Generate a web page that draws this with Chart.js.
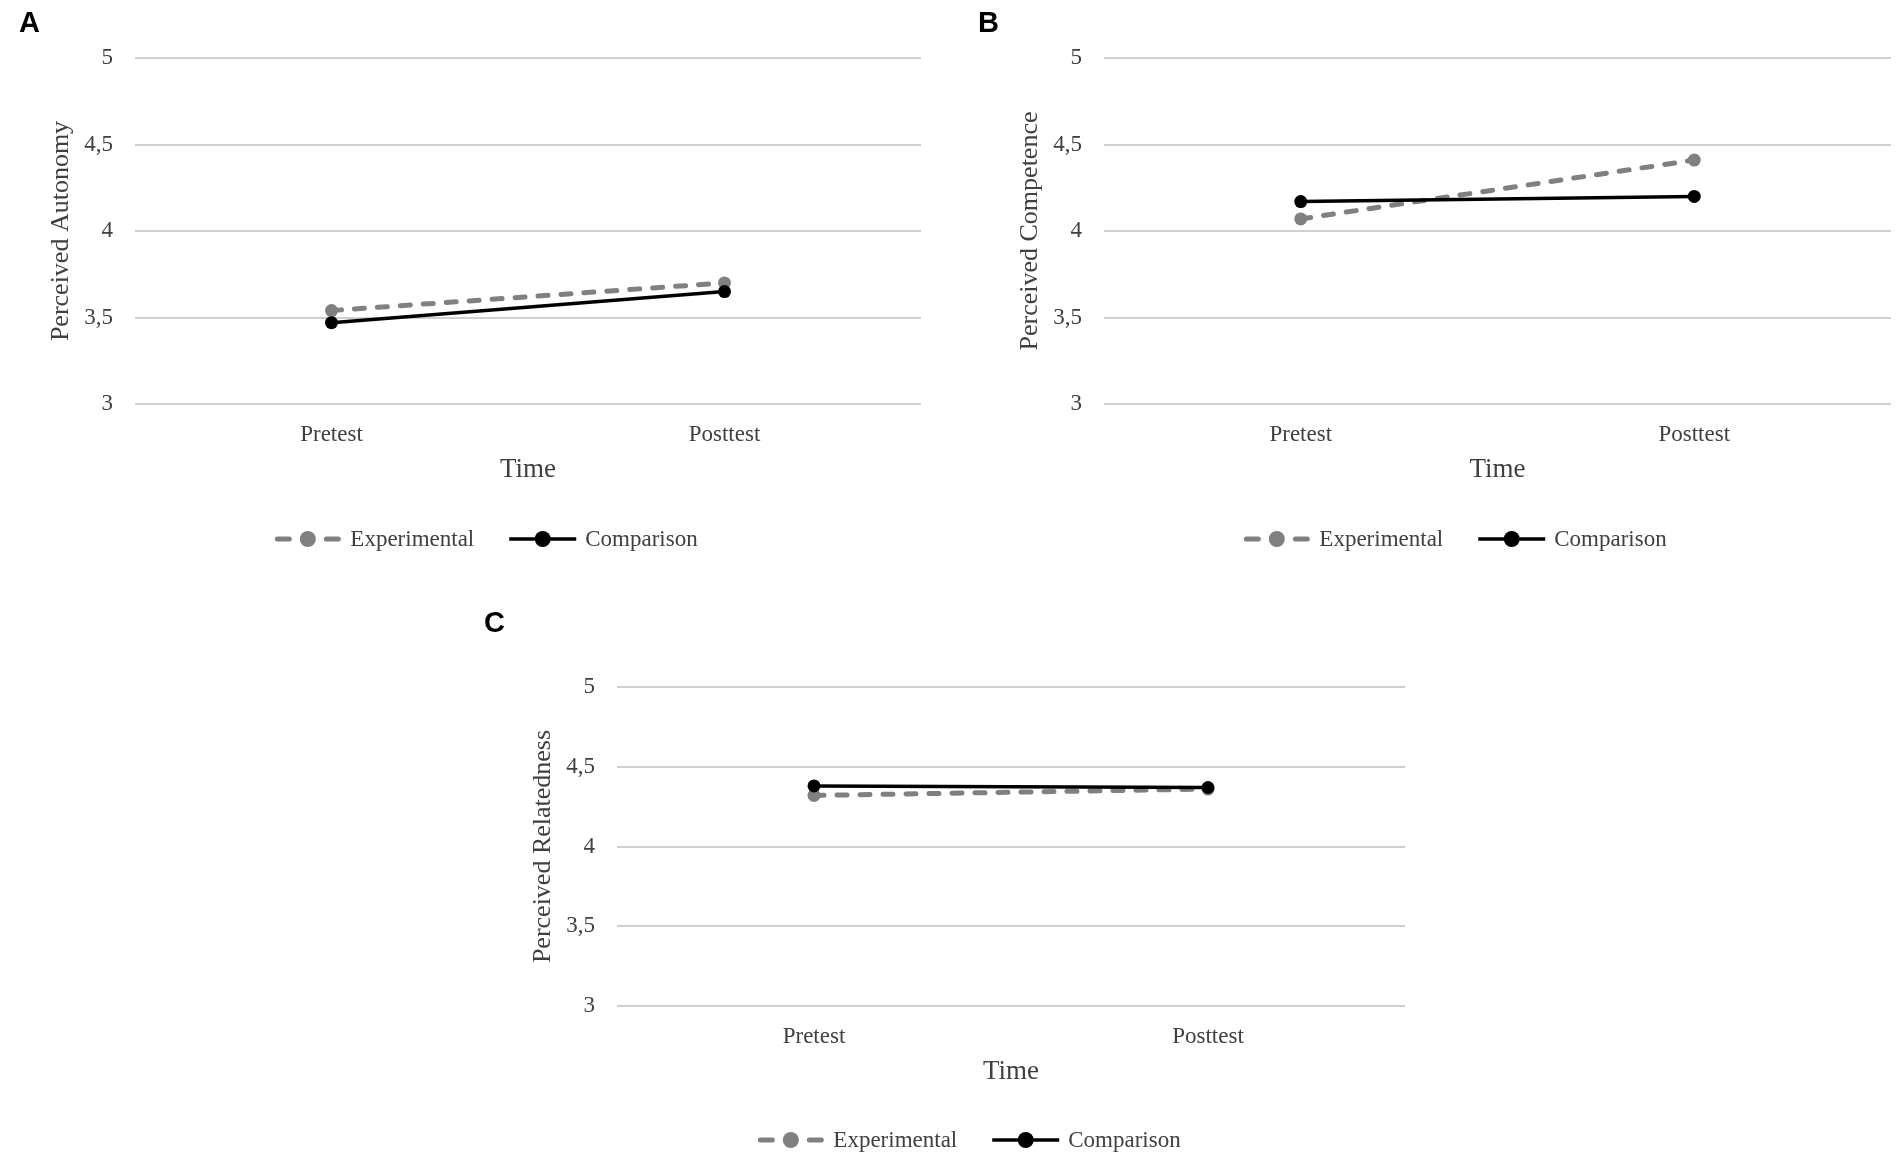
<!DOCTYPE html>
<html>
<head>
<meta charset="utf-8">
<script src="https://cdn.jsdelivr.net/npm/chart.js@4.4.0/dist/chart.umd.min.js"></script>
<style>
  html, body { margin: 0; padding: 0; background: #fff; }
  #page { position: relative; width: 1901px; height: 1167px; overflow: hidden; background: #fff; }
  canvas { position: absolute; }
  .panel-tag { position: absolute; font: bold 29px "Liberation Sans", Arial, sans-serif; line-height: 1; color: #000; }
</style>
</head>
<body>
<div id="page">
  <canvas id="chart-a"></canvas>
  <canvas id="chart-b"></canvas>
  <canvas id="chart-c"></canvas>
  <div class="panel-tag" style="left:19px;top:8px">A</div>
  <div class="panel-tag" style="left:978px;top:8px">B</div>
  <div class="panel-tag" style="left:484px;top:608px">C</div>
</div>
<script>
// ===== DATA =====
const timeLabels = ['Pretest', 'Posttest'];
const seriesNames = ['Experimental', 'Comparison'];
const autonomyExp = [3.54, 3.70];
const autonomyCmp = [3.47, 3.65];
const competenceExp = [4.07, 4.41];
const competenceCmp = [4.17, 4.20];
const relatednessExp = [4.32, 4.36];
const relatednessCmp = [4.38, 4.37];
const yMin = 3, yMax = 5, yStep = 0.5;

// ===== STYLE =====
const SERIF = '"Liberation Serif", "Times New Roman", serif';
const TEXT = '#404040';
const GREY = '#808080';
const TICK_SIZE = 23;
const XTITLE_SIZE = 27;
const YTITLE_SIZE = 26;

// legend drawn as line + marker samples, like the office chart
const lineLegend = {
    id: 'lineLegend',
    afterDraw(chart, args, opts) {
        const ctx = chart.ctx;
        const sampleW = 67, textGap = 9, itemGap = 35;
        ctx.save();
        ctx.font = `${TICK_SIZE}px ${SERIF}`;
        const sets = chart.data.datasets;
        const widths = sets.map(d => ctx.measureText(d.label).width);
        const total = sets.length * (sampleW + textGap) + widths.reduce((a, b) => a + b, 0) + itemGap * (sets.length - 1);
        let x = opts.x - total / 2;
        const y = opts.y;
        sets.forEach((d, i) => {
            ctx.strokeStyle = d.borderColor;
            ctx.lineWidth = d.borderWidth;
            if (d.borderDash) {
                ctx.lineCap = 'round';
                ctx.beginPath();
                ctx.moveTo(x + 3, y); ctx.lineTo(x + 15, y);
                ctx.moveTo(x + sampleW - 15, y); ctx.lineTo(x + sampleW - 3, y);
                ctx.stroke();
            } else {
                ctx.lineCap = 'butt';
                ctx.beginPath();
                ctx.moveTo(x, y); ctx.lineTo(x + sampleW, y);
                ctx.stroke();
            }
            ctx.fillStyle = d.pointBackgroundColor;
            ctx.beginPath();
            ctx.arc(x + sampleW / 2, y, 8, 0, Math.PI * 2);
            ctx.fill();
            ctx.fillStyle = TEXT;
            ctx.textBaseline = 'middle';
            ctx.textAlign = 'left';
            ctx.fillText(d.label, x + sampleW + textGap, y + 1);
            x += sampleW + textGap + widths[i] + itemGap;
        });
        ctx.restore();
    }
};

// ===== PANELS =====
const panels = [
    { id: 'chart-a', yTitle: 'Perceived Autonomy', exp: autonomyExp, cmp: autonomyCmp,
      box: { left: 0, top: 0, width: 960, height: 580 },
      area: { left: 135, right: 921, top: 58, bottom: 404 },
      legend: { x: 486, y: 539 } },
    { id: 'chart-b', yTitle: 'Perceived Competence', exp: competenceExp, cmp: competenceCmp,
      box: { left: 960, top: 0, width: 941, height: 580 },
      area: { left: 1104, right: 1891, top: 58, bottom: 404 },
      legend: { x: 1455, y: 539 } },
    { id: 'chart-c', yTitle: 'Perceived Relatedness', exp: relatednessExp, cmp: relatednessCmp,
      box: { left: 450, top: 600, width: 1000, height: 567 },
      area: { left: 617, right: 1405, top: 687, bottom: 1006 },
      legend: { x: 969, y: 1140 } }
];

function buildChart(p) {
    const c = document.getElementById(p.id);
    c.width = p.box.width;
    c.height = p.box.height;
    c.style.left = p.box.left + 'px';
    c.style.top = p.box.top + 'px';

    const yAxisW = p.area.left - p.box.left;
    const xAxisH = 66 + XTITLE_SIZE * 1.2 / 2;
    const yTitlePad = (p.area.left - 74 - p.box.left) - YTITLE_SIZE * 1.2 / 2;

    return new Chart(c, {
        type: 'line',
        data: {
            labels: timeLabels,
            datasets: [
                {
                    label: seriesNames[0], data: p.exp, order: 1,
                    borderColor: GREY, backgroundColor: GREY, borderWidth: 5,
                    borderDash: [10, 13], borderCapStyle: 'round',
                    pointRadius: 6.5, pointBorderWidth: 0, pointBackgroundColor: GREY, fill: false, tension: 0
                },
                {
                    label: seriesNames[1], data: p.cmp, order: 0,
                    borderColor: '#000', backgroundColor: '#000', borderWidth: 3.5,
                    pointRadius: 6.5, pointBorderWidth: 0, pointBackgroundColor: '#000', fill: false, tension: 0
                }
            ]
        },
        options: {
            responsive: false, devicePixelRatio: 1, animation: false,
            layout: {
                padding: {
                    left: 0,
                    top: p.area.top - p.box.top,
                    right: p.box.left + p.box.width - p.area.right,
                    bottom: p.box.top + p.box.height - p.area.bottom - xAxisH
                }
            },
            plugins: {
                legend: { display: false },
                tooltip: { enabled: false },
                lineLegend: { x: p.legend.x - p.box.left, y: p.legend.y - p.box.top }
            },
            scales: {
                x: {
                    offset: true,
                    grid: { display: false, drawTicks: false },
                    border: { display: false },
                    ticks: { padding: 17, color: TEXT, font: { family: SERIF, size: TICK_SIZE } },
                    title: { display: true, text: 'Time', color: TEXT, padding: 0, font: { family: SERIF, size: XTITLE_SIZE } },
                    afterFit: s => { s.height = xAxisH; }
                },
                y: {
                    min: yMin, max: yMax,
                    grid: { color: '#d0d0d0', lineWidth: 2, drawTicks: false },
                    border: { display: false },
                    ticks: {
                        stepSize: yStep, padding: 22, color: TEXT,
                        font: { family: SERIF, size: TICK_SIZE },
                        callback: v => String(v).replace('.', ',')
                    },
                    title: {
                        display: true, text: p.yTitle, color: TEXT,
                        padding: { top: yTitlePad, bottom: 0 },
                        font: { family: SERIF, size: YTITLE_SIZE }
                    },
                    afterFit: s => { s.width = yAxisW; }
                }
            }
        },
        plugins: [lineLegend]
    });
}

panels.forEach(buildChart);
</script>
</body>
</html>
